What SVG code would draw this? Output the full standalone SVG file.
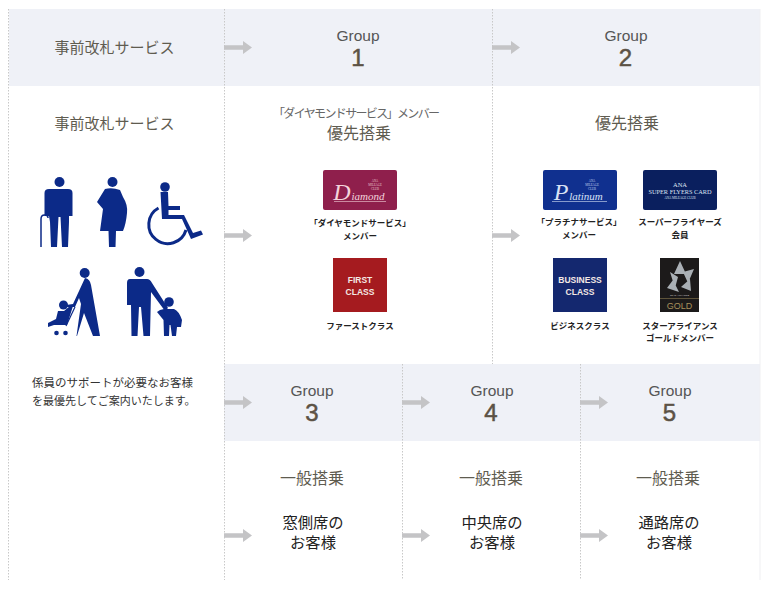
<svg xmlns="http://www.w3.org/2000/svg" width="780" height="613" viewBox="0 0 780 613">
<style>
.t{font-family:"Noto Sans CJK JP","Noto Sans",sans-serif}
.h{font-size:16px;fill:#5f5c50;text-anchor:middle}
.h0{font-size:15px;fill:#5f5c50;text-anchor:middle}
.g{font-family:"Liberation Sans",Arial,sans-serif;font-size:15.500px;fill:#555;text-anchor:middle}
.n{font-family:"Liberation Sans",Arial,sans-serif;font-size:24px;fill:#5c5245;stroke:#5c5245;stroke-width:.5;text-anchor:middle}
.c{font-size:8.500px;font-weight:700;fill:#222;text-anchor:middle}
.s{font-size:15.300px;fill:#222;text-anchor:middle}
.d{stroke:#c8c8c8;stroke-width:1;stroke-dasharray:1.5 1.5;fill:none}
.a{fill:#c4c4c6}
.ic{fill:#0c2a88}
.l{font-family:"Liberation Sans",Arial,sans-serif;font-weight:700;fill:#f4e9e4;font-size:8.500px;text-anchor:middle}
.sc{font-family:"Liberation Serif",serif;text-anchor:middle}
</style>
<defs><path id="arr" class="a" d="M0-2.2H19V-6.5L28 0L19 6.5V2.2H0Z"/></defs>
<rect width="780" height="613" fill="#fff"/>
<g id="bands">
<rect x="9" y="9" width="751" height="77" fill="#eff1f7"/>
<rect x="224" y="364" width="536" height="77" fill="#eff1f7"/>
<path d="M760 9V580" stroke="#efeff2" fill="none"/>
</g>
<g id="connectors">
<path class="d" d="M8.500 9V580M224.500 9V580M492.500 9V364M402.500 364V580M580.500 364V580"/>
<use href="#arr" x="224" y="47.500"/>
<use href="#arr" x="492" y="47.500"/>
<use href="#arr" x="224" y="235.500"/>
<use href="#arr" x="492" y="235.500"/>
<use href="#arr" x="224" y="402.500"/>
<use href="#arr" x="402" y="402.500"/>
<use href="#arr" x="580" y="402.500"/>
<use href="#arr" x="224" y="535.500"/>
<use href="#arr" x="402" y="535.500"/>
<use href="#arr" x="580" y="535.500"/>
</g>
<g id="group-head-0"><text class="t h0" x="114.500" y="53">事前改札サービス</text></g>
<g id="group-1"><text class="g" x="358" y="41">Group</text><text class="n" x="358" y="66">1</text></g>
<g id="group-2"><text class="g" x="626" y="41">Group</text><text class="n" x="625.500" y="66">2</text></g>
<g id="group-3"><text class="g" x="312" y="396">Group</text><text class="n" x="312" y="421">3</text></g>
<g id="group-4"><text class="g" x="492" y="396">Group</text><text class="n" x="491" y="421">4</text></g>
<g id="group-5"><text class="g" x="670" y="396">Group</text><text class="n" x="669.500" y="421">5</text></g>
<g id="col-assist">
<text class="t h0" x="114.500" y="129">事前改札サービス</text>
<g class="ic">
<circle cx="59.500" cy="182" r="5"/>
<path d="M49 189H68Q72.500 189 72.500 193V216H69V222L68 247H62L60.500 217H58.500L57 247H51L50 222L49 216H44.500V193Q44.500 189 49 189Z"/>
<path d="M41 247V219Q41 215 44.500 215Q48 215 48 218" fill="none" stroke="#0c2a88" stroke-width="1.500"/>
<circle cx="112.500" cy="182" r="5"/>
<path d="M105 189Q112 187 120 190L123 197Q128 205 127 213Q126 224 123 231H116L115.500 247H109L108.500 231H100L103 209L97 202Z"/>
<circle cx="165" cy="187" r="4.800"/>
<path d="M160.500 192H168L168.500 206H180V210H168.500V215H184L193 233L201 230.500L203 234.500L191 239L182 219H162Z"/>
<path d="M158.500 208A19 19 0 1 0 186 230" fill="none" stroke="#0c2a88" stroke-width="3"/>
<circle cx="84.700" cy="273" r="5"/>
<path d="M85 278Q90 279 91 285L100 336H93L84 313L77 336H76.500L81 304L79 298L75 307H66V305L73 304Z"/>
<circle cx="63.500" cy="305" r="4.500"/>
<path d="M58 311H64L70 306H73L67 325H57L54 325L48 327V323L56 319Z"/>
<circle cx="56.500" cy="333" r="2.300"/><circle cx="65.500" cy="333" r="2.300"/>
<path d="M66 326L75 307" fill="none" stroke="#0c2a88" stroke-width="1.200"/>
<circle cx="139.500" cy="272" r="5"/>
<path d="M130 279H147Q150 279 152 283L168 308L165 311L151 292L150 336H143.500L141 307H139L137.500 336H131.500L131 305H127V283Q127 279 130 279Z"/>
<circle cx="169" cy="302" r="4.800"/>
<path d="M164 309H174Q179 311 182 320L181 327H177L176 336H172L170.500 325H169.500L169 336H164L163.500 320L157 312L160 310Z"/>
</g>
<text class="t" x="32" y="387" font-size="11.500" fill="#333">係員のサポートが必要なお客様</text>
<text class="t" x="32" y="405" font-size="11" fill="#333">を最優先してご案内いたします。</text>
</g>
<g id="col-1">
<text class="t" x="356.500" y="118" font-size="12" fill="#666" text-anchor="middle" textLength="167" lengthAdjust="spacing">「ダイヤモンドサービス」メンバー</text>
<text class="t h" x="359" y="139">優先搭乗</text>
<g id="card-diamond"><rect x="323" y="170" width="74" height="40" rx="2" fill="#8f1f4c"/>
<text class="sc" x="342" y="200" font-style="italic" font-size="24" fill="#f3d4dc">D</text>
<text class="sc" x="368" y="200" font-style="italic" font-size="11" fill="#f3d4dc">iamond</text>
<g class="sc" font-size="3" fill="#e9c3cf"><text x="375" y="182">ANA</text><text x="375" y="186">MILEAGE</text><text x="375" y="190">CLUB</text></g>
<path d="M334 201.500H386" stroke="#f3d4dc" stroke-width=".6"/></g>
<text class="t c" x="360" y="226">「ダイヤモンドサービス」</text><text class="t c" x="360" y="239">メンバー</text>
<g id="card-first"><rect x="333" y="258" width="54" height="54" fill="#a51b1f"/>
<text class="l" x="360" y="283">FIRST</text><text class="l" x="360" y="295">CLASS</text></g>
<text class="t c" x="360" y="329">ファーストクラス</text>
</g>
<g id="col-2">
<text class="t h" x="627" y="129">優先搭乗</text>
<g id="card-platinum"><rect x="543" y="170" width="74" height="40" rx="2" fill="#10308f"/>
<text class="sc" x="561" y="200" font-style="italic" font-size="24" fill="#d9e2f5">P</text>
<text class="sc" x="586" y="200" font-style="italic" font-size="11" fill="#d9e2f5">latinum</text>
<g class="sc" font-size="3" fill="#c4d0ee"><text x="592" y="182">ANA</text><text x="592" y="186">MILEAGE</text><text x="592" y="190">CLUB</text></g>
<path d="M552 201.500H607" stroke="#d9e2f5" stroke-width=".6"/></g>
<text class="t c" x="579" y="225">「プラチナサービス」</text><text class="t c" x="579" y="238">メンバー</text>
<g id="card-sfc"><rect x="643" y="170" width="74" height="40" rx="2" fill="#0a1f5e"/>
<text class="sc" x="680" y="187" font-size="6.500" fill="#dfe5f3">ANA</text>
<text class="sc" x="680" y="194" font-size="6.300" fill="#dfe5f3">SUPER FLYERS CARD</text>
<text class="sc" x="680" y="199" font-size="3.200" fill="#dfe5f3">ANA MILEAGE CLUB</text></g>
<text class="t c" x="680" y="225">スーパーフライヤーズ</text><text class="t c" x="680" y="238">会員</text>
<g id="card-business"><rect x="553" y="258" width="54" height="54" fill="#14286f"/>
<text class="l" x="580" y="283">BUSINESS</text><text class="l" x="580" y="295">CLASS</text></g>
<text class="t c" x="580" y="329">ビジネスクラス</text>
<g id="card-gold"><rect x="660" y="258" width="39" height="54" fill="#1c1a1a"/>
<path d="M680 261L686 274L674 274ZM670 272L678 277L675 288ZM694 269L688 283L683 272ZM691 291L681 287L690 279ZM667 288L673 280L679 292Z" fill="#aab0b5"/>
<path d="M660 298.500H699" stroke="#8a7a50" stroke-width=".6"/>
<text x="679.500" y="296" font-family="Liberation Sans,sans-serif" font-size="2.500" fill="#ccc" text-anchor="middle">STAR ALLIANCE</text>
<text x="679.500" y="309" font-family="Liberation Sans,sans-serif" font-size="9" fill="#a8905a" text-anchor="middle">GOLD</text></g>
<text class="t c" x="680" y="329">スターアライアンス</text><text class="t c" x="680" y="341">ゴールドメンバー</text>
</g>
<g id="col-3"><text class="t h" x="312" y="484">一般搭乗</text><text class="t s" x="313" y="528">窓側席の</text><text class="t s" x="313" y="548">お客様</text></g>
<g id="col-4"><text class="t h" x="491" y="484">一般搭乗</text><text class="t s" x="492" y="528">中央席の</text><text class="t s" x="492" y="548">お客様</text></g>
<g id="col-5"><text class="t h" x="668" y="484">一般搭乗</text><text class="t s" x="669" y="528">通路席の</text><text class="t s" x="669" y="548">お客様</text></g>
</svg>
